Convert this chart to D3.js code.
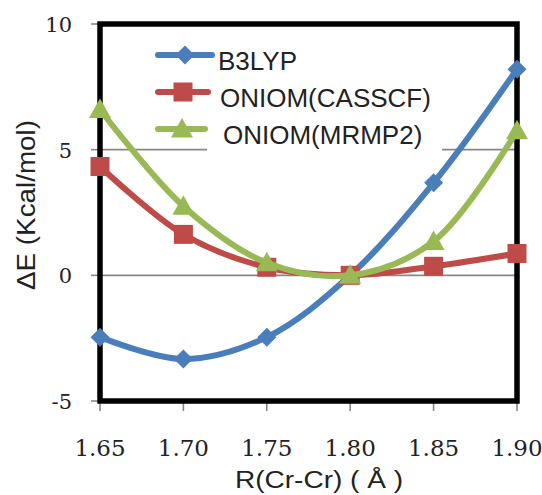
<!DOCTYPE html>
<html>
<head>
<meta charset="utf-8">
<script src="https://cdn.jsdelivr.net/npm/d3@7"></script>
<style>
  body { margin: 0; background: #fff; }
  svg { display: block; }
</style>
</head>
<body>
<svg id="chart" width="542" height="495"></svg>
<script>
var distances = [1.65, 1.70, 1.75, 1.80, 1.85, 1.90];
var b3lyp = [-2.46, -3.33, -2.46, 0.0, 3.68, 8.2];
var casscf = [4.33, 1.63, 0.32, 0.0, 0.36, 0.87];
var mrmp2 = [6.6, 2.75, 0.5, 0.0, 1.35, 5.75];
var seriesNames = ["B3LYP", "ONIOM(CASSCF)", "ONIOM(MRMP2)"];
var yTicks = [-5, 0, 5, 10];
var xTickLabels = ["1.65", "1.70", "1.75", "1.80", "1.85", "1.90"];

var svg = d3.select("#chart");
// note: "top" is reserved on window, so use plot* names
var plotLeft = 100, plotRight = 517, plotTop = 24, plotBottom = 401;

var x = d3.scaleLinear().domain([1.65, 1.90]).range([plotLeft, plotRight]);
var y = d3.scaleLinear().domain([-5, 10]).range([plotBottom, plotTop]);

var colors = ["#4a7ebb", "#be4b48", "#98b954"];
var markers = ["diamond", "square", "triangle"];

// gridlines
svg.append("g").selectAll("line")
    .data([0, 5])
    .enter().append("line")
    .attr("x1", plotLeft).attr("x2", plotRight)
    .attr("y1", function (d) { return y(d); })
    .attr("y2", function (d) { return y(d); })
    .attr("stroke", "#878787")
    .attr("stroke-width", 1.6);

// legend background hides part of the grid
svg.append("rect")
    .attr("x", 207).attr("y", 36)
    .attr("width", 235).attr("height", 118)
    .attr("fill", "#fff");

// y axis ticks + labels
var yAxis = svg.append("g");
yAxis.selectAll("line")
    .data(yTicks)
    .enter().append("line")
    .attr("x1", plotLeft - 9).attr("x2", plotLeft)
    .attr("y1", function (d) { return y(d); })
    .attr("y2", function (d) { return y(d); })
    .attr("stroke", "#878787").attr("stroke-width", 1.6);
yAxis.selectAll("text")
    .data(yTicks)
    .enter().append("text")
    .attr("x", 72)
    .attr("y", function (d) { return y(d) + 8; })
    .attr("text-anchor", "end")
    .attr("font-family", "DejaVu Serif")
    .attr("font-size", 21)
    .attr("fill", "#222")
    .text(function (d) { return d; });

// x axis ticks + labels
var xAxis = svg.append("g");
xAxis.selectAll("line")
    .data(distances)
    .enter().append("line")
    .attr("x1", function (d) { return x(d); })
    .attr("x2", function (d) { return x(d); })
    .attr("y1", plotBottom).attr("y2", plotBottom + 10)
    .attr("stroke", "#878787").attr("stroke-width", 1.6);
xAxis.selectAll("text")
    .data(distances)
    .enter().append("text")
    .attr("x", function (d) { return x(d); })
    .attr("y", 456)
    .attr("text-anchor", "middle")
    .attr("font-family", "DejaVu Serif")
    .attr("font-size", 23)
    .attr("fill", "#222")
    .text(function (d, i) { return xTickLabels[i]; });

// plot frame
svg.append("rect")
    .attr("x", plotLeft).attr("y", plotTop)
    .attr("width", plotRight - plotLeft).attr("height", plotBottom - plotTop)
    .attr("fill", "none")
    .attr("stroke", "#000")
    .attr("stroke-width", 5.5);

// axis titles
svg.append("text")
    .attr("transform", "translate(35,205)rotate(-90)")
    .attr("text-anchor", "middle")
    .attr("font-family", "Liberation Sans")
    .attr("font-size", 26)
    .attr("fill", "#222")
    .attr("textLength", 170)
    .attr("lengthAdjust", "spacingAndGlyphs")
    .text("ΔE (Kcal/mol)");

svg.append("text")
    .attr("x", 319).attr("y", 488)
    .attr("text-anchor", "middle")
    .attr("font-family", "Liberation Sans")
    .attr("font-size", 23)
    .attr("fill", "#222")
    .attr("textLength", 168)
    .attr("lengthAdjust", "spacingAndGlyphs")
    .text("R(Cr-Cr) ( Å )");

function markerPath(type) {
    if (type === "diamond") return "M0,-9.5L9.5,0L0,9.5L-9.5,0Z";
    if (type === "square") return "M-9.5,-9.5H9.5V9.5H-9.5Z";
    return "M0,-11L11,8.5H-11Z";
}

var line = d3.line()
    .x(function (d, i) { return x(distances[i]); })
    .y(function (d) { return y(d); })
    .curve(d3.curveCatmullRom.alpha(0.5));

[b3lyp, casscf, mrmp2].forEach(function (values, k) {
    var g = svg.append("g");
    g.append("path")
        .attr("d", line(values))
        .attr("fill", "none")
        .attr("stroke", colors[k])
        .attr("stroke-width", 6)
        .attr("stroke-linecap", "round");
    g.selectAll("path.mark")
        .data(values)
        .enter().append("path")
        .attr("class", "mark")
        .attr("d", markerPath(markers[k]))
        .attr("transform", function (d, i) {
            return "translate(" + x(distances[i]) + "," + y(d) + ")";
        })
        .attr("fill", colors[k]);
});

// legend
var legendRows = [55, 92, 129];
var legendLineEnd = [212, 208, 205];
var legendTextX = [218, 220, 223];
var legendMarkX = [185, 183, 182];
seriesNames.forEach(function (name, k) {
    var g = svg.append("g");
    g.append("line")
        .attr("x1", 158).attr("x2", legendLineEnd[k])
        .attr("y1", legendRows[k]).attr("y2", legendRows[k])
        .attr("stroke", colors[k])
        .attr("stroke-width", 6)
        .attr("stroke-linecap", "round");
    g.append("path")
        .attr("d", markerPath(markers[k]))
        .attr("transform", "translate(" + legendMarkX[k] + "," + legendRows[k] + ")")
        .attr("fill", colors[k]);
    g.append("text")
        .attr("x", legendTextX[k])
        .attr("y", legendRows[k] + 15)
        .attr("font-family", "Liberation Sans")
        .attr("font-size", 26)
        .attr("fill", "#222")
        .text(name);
});
</script>
</body>
</html>
